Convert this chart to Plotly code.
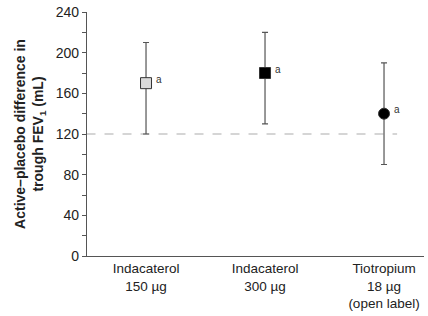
import plotly.graph_objects as go

categories = ["Indacaterol<br>150 µg", "Indacaterol<br>300 µg", "Tiotropium<br>18 µg<br>(open label)"]
means = [170, 180, 140]
lower = [120, 130, 90]
upper = [210, 220, 190]
marker_symbols = ["square", "square", "circle"]
marker_fills = ["#d9d9d9", "#000000", "#000000"]
threshold = 120
y_ticks = [0, 40, 80, 120, 160, 200, 240]

xpos = list(range(len(categories)))
fig = go.Figure()

fig.add_trace(go.Scatter(
    x=[-0.5, 2.11], y=[threshold, threshold], mode="lines",
    line=dict(color="#c8c8c8", width=1.5, dash="dash"), hoverinfo="skip", showlegend=False))

for i in range(len(categories)):
    fig.add_trace(go.Scatter(
        x=[xpos[i]], y=[means[i]], mode="markers",
        marker=dict(symbol=marker_symbols[i], size=11,
                    color=marker_fills[i], line=dict(color="#333333", width=1)),
        error_y=dict(type="data", symmetric=False,
                     array=[upper[i] - means[i]], arrayminus=[means[i] - lower[i]],
                     color="#555555", thickness=1.2, width=3),
        showlegend=False))
    fig.add_annotation(x=xpos[i], y=means[i], text="a", showarrow=False,
                       xshift=13, yshift=4, font=dict(size=10, color="#333333", family="Arial"))

fig.update_layout(
    width=428, height=316,
    margin=dict(l=87, r=4, t=12, b=60),
    plot_bgcolor="white", paper_bgcolor="white",
    font=dict(family="Arial, Liberation Sans, sans-serif", color="#222222"),
    xaxis=dict(range=[-0.496, 2.336], tickvals=xpos, ticktext=categories,
               showgrid=False, zeroline=False, showline=True, linecolor="#555555",
               linewidth=1.2, ticks="", tickfont=dict(size=13.5)),
    yaxis=dict(range=[0, 240], tickvals=y_ticks, showgrid=False, zeroline=False,
               showline=True, linecolor="#555555", linewidth=1.2,
               ticks="outside", ticklen=4, tickcolor="#555555", tickfont=dict(size=14),
               minor=dict(tickvals=[20, 60, 100, 140, 180, 220], ticks="outside", ticklen=4,
                          tickcolor="#555555", showgrid=False),
               title=dict(text="<b>Active–placebo difference in<br>trough FEV<sub>1</sub> (mL)</b>",
                          font=dict(size=14), standoff=8)),
)

fig.write_html("out.html")
